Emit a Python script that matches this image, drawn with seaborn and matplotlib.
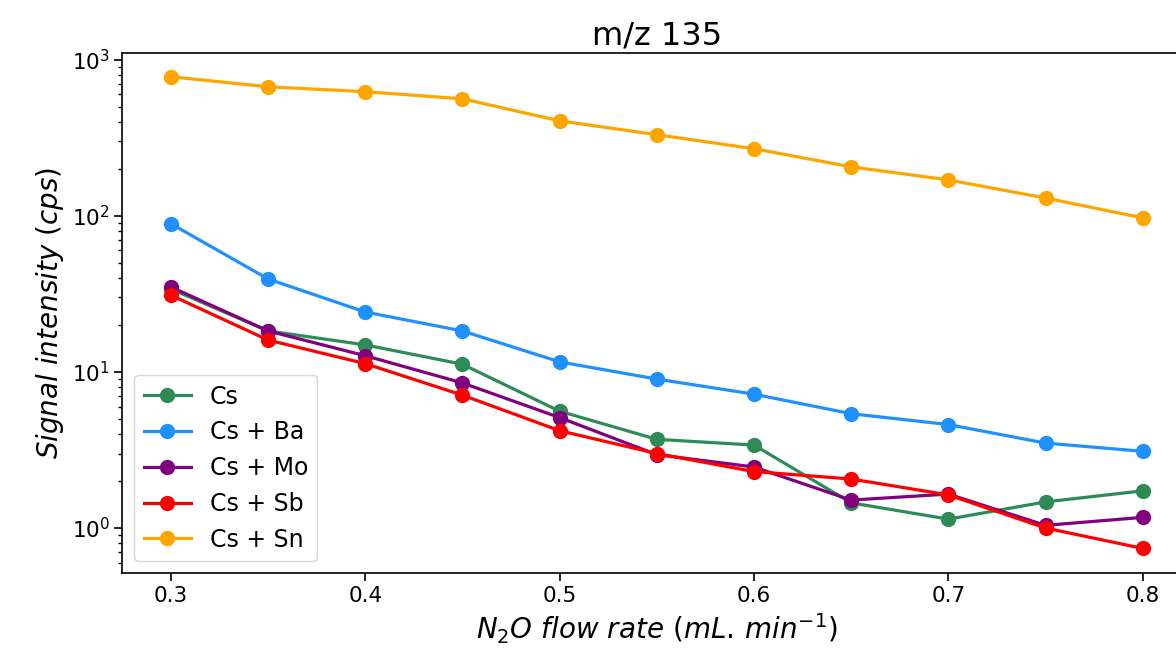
import numpy as np
import pandas as pd
import matplotlib
matplotlib.use("Agg")
import matplotlib.pyplot as plt
import seaborn as sns

# Données (échelle log)
flow = [0.3, 0.35, 0.4, 0.45, 0.5, 0.55, 0.6, 0.65, 0.7, 0.75, 0.8]
cs = [34, 18.3, 14.9, 11.2, 5.6, 3.7, 3.4, 1.45, 1.14, 1.47, 1.73]
cs_ba = [89, 39.4, 24.2, 18.3, 11.6, 9.0, 7.2, 5.4, 4.6, 3.5, 3.1]
cs_mo = [35, 18.3, 12.7, 8.5, 5.1, 2.95, 2.46, 1.51, 1.65, 1.04, 1.17]
cs_sb = [31, 16, 11.3, 7.1, 4.2, 3.0, 2.3, 2.06, 1.63, 1.0, 0.74]
cs_sn = [778, 671, 624, 562, 406, 331, 269, 206, 170, 130, 97]

series = {"Cs": cs, "Cs + Ba": cs_ba, "Cs + Mo": cs_mo, "Cs + Sb": cs_sb, "Cs + Sn": cs_sn}
colors = {"Cs": "seagreen", "Cs + Ba": "dodgerblue", "Cs + Mo": "purple",
          "Cs + Sb": "red", "Cs + Sn": "orange"}

df = pd.concat([pd.DataFrame({"flow": flow, "signal": v, "sample": k}) for k, v in series.items()],
               ignore_index=True)

fig, ax = plt.subplots(figsize=(11.76, 6.59), dpi=100)
# l'axe droit dépasse un peu : l'image d'origine est rognée à droite
fig.subplots_adjust(left=0.104, right=1.013, top=0.92, bottom=0.1305)

sns.lineplot(data=df, x="flow", y="signal", hue="sample", palette=colors,
             marker="o", markersize=11, markeredgewidth=0, linewidth=2.3, ax=ax)

ax.set_yscale("log")
ax.set_ylim(0.515, 1109)
ax.set_xlim(0.275, 0.825)
ax.set_xticks([0.3, 0.4, 0.5, 0.6, 0.7, 0.8])
ax.tick_params(labelsize=15.5, length=5.5, width=1.2)
ax.tick_params(which="minor", length=3.2, width=1.0)
for s in ax.spines.values():
    s.set_linewidth(1.2)
ax.set_title("m/z 135", fontsize=23)
ax.set_xlabel(r"$N_2O\ flow\ rate\ (mL.\,min^{-1})$", fontsize=20)
ax.set_ylabel(r"$Signal\ intensity\ (cps)$", fontsize=20)
ax.legend(loc="lower left", fontsize=17, title=None)

fig.savefig("out.png", dpi=100)
